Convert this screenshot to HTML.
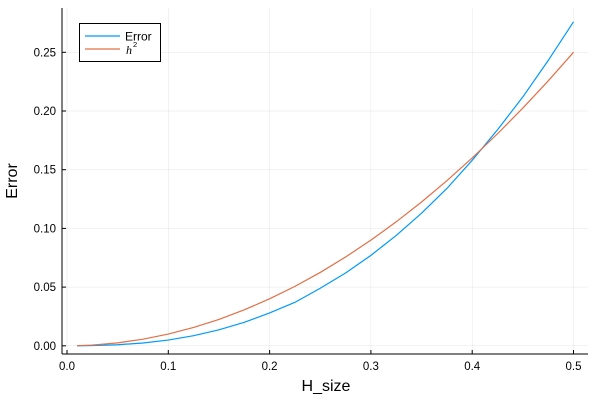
<!DOCTYPE html>
<html><head><meta charset="utf-8"><style>
body{margin:0;background:#fff}
svg{display:block;font-family:"Liberation Sans","DejaVu Sans",sans-serif}
</style></head><body>
<svg id="chart" width="600" height="400"></svg>
<script>
const hValues=[0.01,0.025,0.05,0.075,0.1,0.125,0.15,0.175,0.2,0.225,0.25,0.275,0.3,0.325,0.35,0.375,0.4,0.425,0.45,0.475,0.5];
const errorValues=[0.00002,0.0002,0.0009,0.0024,0.0049,0.0086,0.0136,0.020,0.028,0.037,0.049,0.062,0.077,0.094,0.113,0.134,0.158,0.184,0.212,0.243,0.276];
const h2Values=[0.0001,0.000625,0.0025,0.005625,0.01,0.015625,0.0225,0.030625,0.04,0.050625,0.0625,0.075625,0.09,0.105625,0.1225,0.140625,0.16,0.180625,0.2025,0.225625,0.25];
const xTicks=[0.0,0.1,0.2,0.3,0.4,0.5];
const xTickLabels=["0.0","0.1","0.2","0.3","0.4","0.5"];
const yTicks=[0,0.05,0.1,0.15,0.2,0.25];
const yTickLabels=["0.00","0.05","0.10","0.15","0.20","0.25"];

const NS="http://www.w3.org/2000/svg";
const svg=document.getElementById('chart');
const L=62,R=588,T=8,B=354;
const X=v=>67+v*(573.5-67)/0.5;
const Y=v=>345.8-v*(345.8-52.3)/0.25;
function mk(tag,attrs,parent){const e=document.createElementNS(NS,tag);for(const k in attrs)e.setAttribute(k,attrs[k]);(parent||svg).appendChild(e);return e;}

const grid=mk('g',{});


xTicks.forEach(v=>{mk('line',{x1:X(v),x2:X(v),y1:T,y2:B,stroke:'#000','stroke-opacity':0.1,'stroke-width':0.5},grid);});
yTicks.forEach(v=>{mk('line',{x1:L,x2:R,y1:Y(v),y2:Y(v),stroke:'#000','stroke-opacity':0.1,'stroke-width':0.5},grid);});

const axes=mk('g',{});


mk('line',{x1:L,x2:L,y1:T,y2:B,stroke:'#000','stroke-width':1},axes);
mk('line',{x1:L,x2:R,y1:B,y2:B,stroke:'#000','stroke-width':1},axes);
xTicks.forEach((v,i)=>{
  mk('line',{x1:X(v),x2:X(v),y1:B,y2:B-4,stroke:'#000'},axes);
  const t=mk('text',{x:X(v),y:B+16,'text-anchor':'middle','font-size':11.5},axes);
  t.textContent=xTickLabels[i];
  
  
});
yTicks.forEach((v,i)=>{
  mk('line',{x1:L,x2:L+4,y1:Y(v),y2:Y(v),stroke:'#000'},axes);
  const t=mk('text',{x:L-6,y:Y(v)+4,'text-anchor':'end','font-size':11.5},axes);
  t.textContent=yTickLabels[i];
  
  
});
const xt=mk('text',{x:326,y:391,'text-anchor':'middle','font-size':16});
xt.textContent='H_size';


const yt=mk('text',{x:17,y:181,'text-anchor':'middle','font-size':16,transform:'rotate(-90 17 181)'});
yt.textContent='Error';



function line(vals,color,name){
  const p=mk('polyline',{points:hValues.map((h,i)=>X(h)+','+Y(vals[i])).join(' '),fill:'none',stroke:color,'stroke-width':1.2,'stroke-linejoin':'round'});
  
  
}
line(errorValues,'#009af9','error-line');
line(h2Values,'#e26f46','h2-line');

const lg=mk('g',{});


mk('rect',{x:79.5,y:23.5,width:81,height:38,fill:'#fff',stroke:'#000','stroke-width':1},lg);
mk('line',{x1:85,x2:120,y1:36,y2:36,stroke:'#009af9','stroke-width':1.2},lg);
mk('line',{x1:85,x2:120,y1:49,y2:49,stroke:'#e26f46','stroke-width':1.2},lg);
const l1=mk('text',{x:125,y:40.5,'font-size':12},lg);
l1.textContent='Error';


const l2=mk('text',{x:126,y:54,'font-size':12,'font-style':'italic','font-family':'Liberation Serif, serif'},lg);
l2.textContent='h';


const sup=mk('text',{x:133,y:47,'font-size':7.5},lg);
sup.textContent='2';
</script>
</body></html>
